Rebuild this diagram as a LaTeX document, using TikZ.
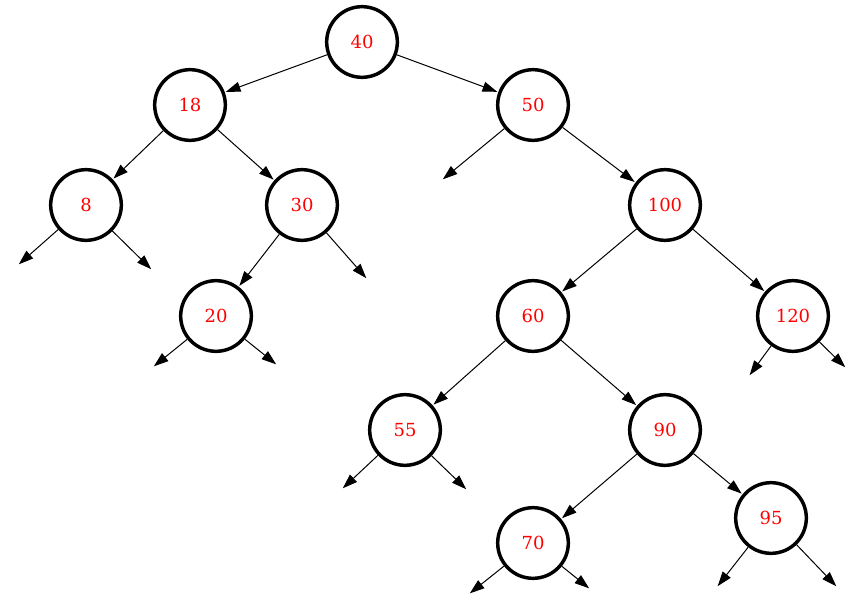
\documentclass[tikz,border=0pt]{standalone}
\usepackage{fontspec}
\setmainfont{DejaVu Serif}
\usetikzlibrary{arrows.meta}
\begin{document}
\begin{tikzpicture}[x=0.75pt,y=-0.75pt,
  treenode/.style={circle,draw=black,line width=2.6pt,minimum size=53pt,inner sep=0pt,
    text=red,font=\fontsize{13.5}{16}\selectfont},
  edge/.style={line width=0.75pt,-{Triangle[length=11pt,width=7.5pt]},shorten >=0.8pt}]
\useasboundingbox (0,0) rectangle (862,605);
\node[treenode] (n40) at (362,42) {40};
\node[treenode] (n18) at (190,105) {18};
\node[treenode] (n50) at (533,105) {50};
\node[treenode] (n8) at (86,205) {8};
\node[treenode] (n30) at (302,205) {30};
\node[treenode] (n100) at (665,205) {100};
\node[treenode] (n20) at (216,316) {20};
\node[treenode] (n60) at (533,316) {60};
\node[treenode] (n120) at (793,316) {120};
\node[treenode] (n55) at (405,430) {55};
\node[treenode] (n90) at (665,430) {90};
\node[treenode] (n70) at (533,543) {70};
\node[treenode] (n95) at (771,518) {95};
\coordinate (e50l) at (442,180);
\coordinate (e8l) at (18,265);
\coordinate (e8r) at (152,270);
\coordinate (e30r) at (367,279);
\coordinate (e20l) at (153,367);
\coordinate (e20r) at (277,365);
\coordinate (e120l) at (749,376);
\coordinate (e120r) at (846,368);
\coordinate (e55l) at (342,489);
\coordinate (e55r) at (467,490);
\coordinate (e70l) at (469,594);
\coordinate (e70r) at (590,589);
\coordinate (e95l) at (717,587);
\coordinate (e95r) at (837,587);
\draw[edge] (n40) -- (n18);
\draw[edge] (n40) -- (n50);
\draw[edge] (n18) -- (n8);
\draw[edge] (n18) -- (n30);
\draw[edge] (n50) -- (e50l);
\draw[edge] (n50) -- (n100);
\draw[edge] (n8) -- (e8l);
\draw[edge] (n8) -- (e8r);
\draw[edge] (n30) -- (n20);
\draw[edge] (n30) -- (e30r);
\draw[edge] (n100) -- (n60);
\draw[edge] (n100) -- (n120);
\draw[edge] (n20) -- (e20l);
\draw[edge] (n20) -- (e20r);
\draw[edge] (n60) -- (n55);
\draw[edge] (n60) -- (n90);
\draw[edge] (n120) -- (e120l);
\draw[edge] (n120) -- (e120r);
\draw[edge] (n55) -- (e55l);
\draw[edge] (n55) -- (e55r);
\draw[edge] (n90) -- (n70);
\draw[edge] (n90) -- (n95);
\draw[edge] (n70) -- (e70l);
\draw[edge] (n70) -- (e70r);
\draw[edge] (n95) -- (e95l);
\draw[edge] (n95) -- (e95r);
\end{tikzpicture}
\end{document}
